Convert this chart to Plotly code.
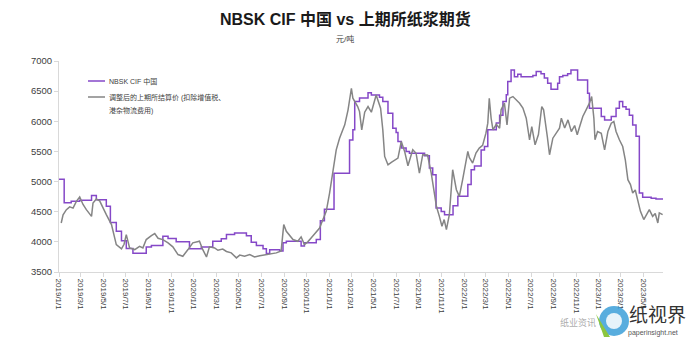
import plotly.graph_objects as go

# NBSK CIF China price (step changes: date the price took effect, value in 元/吨)
nbsk_dates = [
    "2019-01-01", "2019-01-15", "2019-02-03", "2019-02-26", "2019-03-30", "2019-04-12",
    "2019-05-09", "2019-05-20", "2019-06-05", "2019-06-19", "2019-07-02", "2019-07-20",
    "2019-08-25", "2019-09-08", "2019-10-09", "2019-10-23", "2019-11-14", "2019-12-20",
    "2020-01-21", "2020-02-21", "2020-03-15", "2020-03-29", "2020-04-20", "2020-05-22",
    "2020-06-04", "2020-06-18", "2020-07-06", "2020-07-15", "2020-07-24", "2020-08-20",
    "2020-08-29", "2020-09-07", "2020-10-17", "2020-10-26", "2020-11-27", "2020-12-08",
    "2020-12-19", "2021-01-14", "2021-02-25", "2021-03-06", "2021-03-11", "2021-03-24",
    "2021-04-16", "2021-04-25", "2021-05-17", "2021-05-26", "2021-06-09", "2021-06-22",
    "2021-07-01", "2021-07-06", "2021-07-15", "2021-07-28", "2021-08-06", "2021-09-16",
    "2021-09-29", "2021-10-08", "2021-10-17", "2021-10-31", "2021-11-09", "2021-12-02",
    "2021-12-15", "2022-01-11", "2022-01-20", "2022-01-29", "2022-02-16", "2022-02-25",
    "2022-03-06", "2022-03-29", "2022-04-07", "2022-04-16", "2022-04-25", "2022-04-29",
    "2022-05-08", "2022-05-17", "2022-05-26", "2022-06-04", "2022-07-06", "2022-07-15",
    "2022-07-28", "2022-08-06", "2022-08-15", "2022-08-24", "2022-09-11", "2022-09-16",
    "2022-09-25", "2022-10-08", "2022-10-17", "2022-11-04", "2022-12-01", "2022-12-06",
    "2023-01-07", "2023-01-16", "2023-02-03", "2023-02-16", "2023-02-25", "2023-03-06",
    "2023-03-15", "2023-03-24", "2023-04-02", "2023-04-11", "2023-04-20", "2023-04-29",
    "2023-05-22", "2023-06-04", "2023-06-22",
]
nbsk_values = [
    5040, 4650, 4675, 4690, 4770, 4700,
    4590, 4320, 4175, 4020, 3890, 3810,
    3915, 3940, 4095, 4055, 4000, 3885,
    3915, 4010, 4050, 4120, 4145, 4100,
    3995, 3940, 3885, 3805, 3870, 3850,
    3985, 4010, 3930, 3985, 4040, 4350,
    4540, 5140, 5690, 5860, 6330, 6385,
    6475, 6435, 6400, 6330, 6135, 5885,
    5815, 5665, 5555, 5500, 5470, 5430,
    5225, 5115, 4560, 4505, 4450, 4600,
    4755, 4950, 5195, 5260, 5525, 5580,
    5860, 5970, 6100, 6330, 6440, 6660,
    6850, 6740, 6780, 6740, 6760, 6825,
    6790, 6720, 6630, 6530, 6630, 6740,
    6760, 6790, 6850, 6685, 6465, 6215,
    6080, 6020, 6080, 6215, 6330, 6240,
    6200, 6100, 5940, 5750, 4810, 4740,
    4725, 4710, 4700,
]

# SHFE pulp futures settlement, adjusted (ex VAT, port & logistics costs)
shfe_dates = [
    "2019-01-07", "2019-01-12", "2019-01-21", "2019-01-30", "2019-02-08", "2019-02-17",
    "2019-02-26", "2019-03-07", "2019-03-16", "2019-03-30", "2019-04-03", "2019-04-12",
    "2019-04-21", "2019-04-30", "2019-05-09", "2019-05-23", "2019-05-29", "2019-06-05",
    "2019-06-19", "2019-06-26", "2019-07-02", "2019-07-11", "2019-07-25", "2019-08-07",
    "2019-08-16", "2019-08-25", "2019-09-08", "2019-09-17", "2019-09-26", "2019-10-09",
    "2019-10-23", "2019-11-05", "2019-11-19", "2019-12-02", "2019-12-16", "2019-12-29",
    "2020-01-16", "2020-01-25", "2020-02-04", "2020-02-12", "2020-02-26", "2020-03-06",
    "2020-03-19", "2020-03-29", "2020-04-11", "2020-04-25", "2020-05-04", "2020-05-17",
    "2020-05-31", "2020-06-13", "2020-06-27", "2020-07-15", "2020-07-28", "2020-08-11",
    "2020-08-24", "2020-08-31", "2020-09-07", "2020-09-16", "2020-09-25", "2020-10-08",
    "2020-10-17", "2020-10-26", "2020-11-04", "2020-11-13", "2020-11-27", "2020-12-06",
    "2020-12-15", "2020-12-24", "2021-01-02", "2021-01-11", "2021-01-20", "2021-01-29",
    "2021-02-04", "2021-02-12", "2021-02-21", "2021-03-02", "2021-03-06", "2021-03-19",
    "2021-03-24", "2021-03-30", "2021-04-07", "2021-04-16", "2021-04-25", "2021-05-08",
    "2021-05-20", "2021-05-26", "2021-05-31", "2021-06-09", "2021-06-18", "2021-06-27",
    "2021-07-06", "2021-07-15", "2021-07-24", "2021-08-02", "2021-08-15", "2021-08-24",
    "2021-09-02", "2021-09-11", "2021-09-24", "2021-10-04", "2021-10-18", "2021-10-26",
    "2021-11-02", "2021-11-08", "2021-11-14", "2021-11-22", "2021-12-01", "2021-12-11",
    "2021-12-19", "2021-12-28", "2022-01-06", "2022-01-11", "2022-01-15", "2022-01-24",
    "2022-02-02", "2022-02-11", "2022-02-20", "2022-03-01", "2022-03-06", "2022-03-10",
    "2022-03-15", "2022-03-20", "2022-03-29", "2022-04-07", "2022-04-11", "2022-04-20",
    "2022-04-27", "2022-05-04", "2022-05-13", "2022-05-22", "2022-05-31", "2022-06-09",
    "2022-06-18", "2022-06-27", "2022-07-03", "2022-07-12", "2022-07-21", "2022-07-30",
    "2022-08-04", "2022-08-14", "2022-08-20", "2022-08-29", "2022-09-07", "2022-09-16",
    "2022-09-21", "2022-09-30", "2022-10-09", "2022-10-18", "2022-10-27", "2022-11-03",
    "2022-11-09", "2022-11-18", "2022-11-27", "2022-12-06", "2022-12-12", "2022-12-18",
    "2022-12-21", "2022-12-28", "2023-01-07", "2023-01-16", "2023-01-25", "2023-02-03",
    "2023-02-10", "2023-02-16", "2023-02-25", "2023-03-06", "2023-03-13", "2023-03-20",
    "2023-03-27", "2023-04-02", "2023-04-09", "2023-04-16", "2023-04-23", "2023-05-02",
    "2023-05-09", "2023-05-17", "2023-05-26", "2023-06-02", "2023-06-09", "2023-06-13",
    "2023-06-22",
]
shfe_values = [
    4313, 4450, 4534, 4580, 4560, 4672,
    4744, 4620, 4534, 4423, 4645, 4710,
    4680, 4560, 4451, 4286, 4150, 3955,
    3884, 3960, 4120, 3900, 3872, 3927,
    3900, 4038, 4103, 4137, 4060, 4038,
    3983, 3917, 3789, 3761, 3872, 3983,
    4010, 3870, 3750, 3917, 3900, 3861,
    3880, 3840, 3817, 3734, 3780, 3761,
    3789, 3750, 3770, 3789, 3800, 3817,
    3850, 4286, 4175, 4100, 4038, 4010,
    4082, 3955, 4000, 4065, 4175, 4230,
    4370, 4506, 4810, 5196, 5527, 5720,
    5803, 5941, 6190, 6548, 6383, 6245,
    6161, 5858, 6150, 6245, 6150, 6437,
    6217, 5858, 5417, 5279, 5320, 5362,
    5390, 5665, 5500, 5262, 5527, 5470,
    5141, 5445, 5440, 5141, 4590, 4423,
    4258, 4370, 4203, 4450, 5196, 4865,
    4755, 5031, 5362, 5500, 5400, 5307,
    5472, 5555, 5600, 5803, 5969, 6383,
    6050, 5858, 5950, 5886, 6190, 6300,
    5941, 6383, 6410, 6350, 6300, 6220,
    6052, 5693, 5913, 5610, 5780, 6245,
    6190, 5748, 5445, 5720, 5800, 5886,
    6052, 5890, 6024, 5830, 5930, 5776,
    5900, 6079, 6190, 6300, 6410, 6050,
    5693, 5831, 5800, 5527, 5831, 5969,
    5996, 5831, 5693, 5582, 5362, 5031,
    4950, 4810, 4860, 4700, 4506, 4370,
    4460, 4534, 4423, 4470, 4313, 4480,
    4451,
]

y_ticks = [3500, 4000, 4500, 5000, 5500, 6000, 6500, 7000]

nbsk_name = "NBSK CIF 中国"
shfe_name_lines = ["调整后的上期所结算价 (扣除增值税、", "港杂物流费用)"]
title_text = "NBSK CIF 中国 vs 上期所纸浆期货"
unit_text = "元/吨"

FONT = "Liberation Sans, Arial, Noto Sans CJK SC, sans-serif"
PURPLE = "#8548c8"
GREY = "#858585"

fig = go.Figure()
fig.add_trace(go.Scatter(
    x=nbsk_dates, y=nbsk_values, name=nbsk_name, mode="lines",
    line=dict(color=PURPLE, width=1.5, shape="hv"),
))
fig.add_trace(go.Scatter(
    x=shfe_dates, y=shfe_values, name="".join(shfe_name_lines), mode="lines",
    line=dict(color=GREY, width=1.5),
))

# plot-area geometry in pixels, used to place legend and watermark items
L, R, T, B, W, H = 59, 28, 61, 66, 691, 338
pw, ph = W - L - R, H - T - B


def px(x):
    return (x - L) / pw


def py(y):
    return 1 - (y - T) / ph


def label(text, x, y, size, color, xanchor="left", family=None):
    f = dict(size=size, color=color)
    if family:
        f["family"] = family
    return dict(text=text, x=px(x), y=py(y), xref="paper", yref="paper",
                xanchor=xanchor, yanchor="middle", showarrow=False, font=f)


def legend_line(y, color):
    return dict(type="line", xref="paper", yref="paper",
                x0=px(88), x1=px(105), y0=py(y), y1=py(y),
                line=dict(color=color, width=1.5))


annotations = [
    label(f"<b>{title_text}</b>", 345, 19, 16, "#1a1a1a", "center"),
    label(unit_text, 345, 39, 8, "#404040", "center"),
    # legend
    label(nbsk_name, 107, 81, 7, "#404040"),
    label(shfe_name_lines[0], 107, 97, 7, "#404040"),
    label(shfe_name_lines[1], 107, 110, 7, "#404040"),
    # watermark
    label("纸业资讯", 578, 322, 9, "rgba(110,110,110,0.6)", "center"),
    label("纸视界", 657, 313, 19, "#333333", "center", "Noto Sans CJK SC"),
    label("paperinsight.net", 653, 333, 7, "#555555", "center"),
]

shapes = [
    legend_line(81, PURPLE),
    legend_line(97, GREY),
    # watermark logo
    dict(type="circle", xref="paper", yref="paper",
         x0=px(599), x1=px(629), y0=py(336), y1=py(306),
         fillcolor="#3b9fd8", line=dict(width=0), layer="above", opacity=0.85),
    dict(type="circle", xref="paper", yref="paper",
         x0=px(606), x1=px(622), y0=py(329), y1=py(313),
         fillcolor="white", line=dict(width=0), layer="above", opacity=0.85),
    dict(type="path", xref="paper", yref="paper",
         path=f"M {px(596)},{py(314)} L {px(604)},{py(337)} L {px(610)},{py(337)} Z",
         fillcolor="#8cc63f", line=dict(width=0), layer="above"),
]

fig.update_layout(
    width=W, height=H,
    margin=dict(l=L, r=R, t=T, b=B, pad=0),
    paper_bgcolor="white", plot_bgcolor="white",
    font=dict(family=FONT, color="#404040"),
    showlegend=False,
    xaxis=dict(
        type="date", range=["2019-01-01", "2023-06-23"],
        tick0="2019-01-01", dtick="M2", tickformat="%Y/%-m/%-d",
        tickangle=90, tickfont=dict(size=8, color="#404040"),
        showgrid=False, zeroline=False,
        showline=True, linecolor="#d9d9d9", linewidth=1,
        ticks="outside", ticklen=4, tickcolor="#d9d9d9",
    ),
    yaxis=dict(
        range=[3500, 7000], tickvals=y_ticks,
        tickfont=dict(size=9.5, color="#404040"),
        showgrid=False, zeroline=False,
        showline=True, linecolor="#d9d9d9", linewidth=1,
        ticks="outside", ticklen=4, tickcolor="#d9d9d9",
    ),
    annotations=annotations,
    shapes=shapes,
)

fig.write_html("out.html")
